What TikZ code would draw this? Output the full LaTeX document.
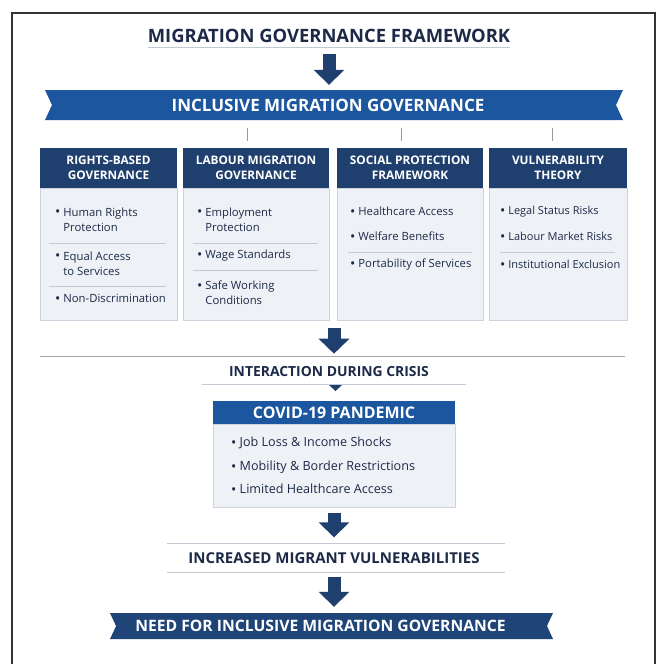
\documentclass[tikz,border=0pt]{standalone}
\usepackage{fontspec}
\setmainfont{Open Sans}
\usetikzlibrary{arrows.meta,shapes.symbols}

\definecolor{ink}{HTML}{1C2A48}
\definecolor{navy}{HTML}{1F3F6E}
\definecolor{bannerblue}{HTML}{1B569E}
\definecolor{deepnavy}{HTML}{1F4478}
\definecolor{paper}{HTML}{EEF1F6}
\definecolor{rim}{HTML}{CDD3DD}
\definecolor{rulegray}{HTML}{C3C9D3}

\newcommand{\bl}{\raisebox{-0.06em}{\fontsize{14}{14}\selectfont\textbullet}\ }
\newcommand{\bpad}{\hphantom{\raisebox{-0.06em}{\fontsize{14}{14}\selectfont\textbullet}\ }}

\begin{document}
\begin{tikzpicture}[x=1pt,y=-1pt,
	heading/.style={font=\bfseries\fontsize{18.4}{21}\selectfont, text=ink, inner sep=0pt},
	ribbon/.style={signal, signal to=nowhere, signal from=west and east, signal pointer angle=130,
		text=white, font=\bfseries\fontsize{17}{20}\selectfont, inner sep=0pt},
	colhead/.style={fill=navy, text=white, align=center, font=\bfseries\fontsize{11.8}{15}\selectfont,
		minimum height=40pt, inner sep=0pt},
	colbody/.style={fill=paper, draw=rim, line width=0.8pt, minimum height=132pt, inner sep=0pt},
	item/.style={anchor=west, align=left, text=ink, font=\fontsize{11.3}{15}\selectfont, inner sep=0pt},
	sepline/.style={draw=rulegray, line width=0.8pt},
	bigarrow/.style={draw=navy, line width=13pt, -{Triangle[width=30pt,length=15pt]}},
]
	\fill[white] (0,0) rectangle (660,664);
	\useasboundingbox (0,0) rectangle (660,664);
	% Frame
	\draw[line width=1.3pt, black!80] (12,664) -- (12,13) -- (655,13) -- (655,664);

	% Top
	\node[heading] (title) at (329,36) {MIGRATION GOVERNANCE FRAMEWORK};
	\draw[sepline] (148,47) -- (510,47);
	\node[ribbon, fill=bannerblue, minimum width=578pt, minimum height=30pt] (inclusive) at (334,105)
		{INCLUSIVE MIGRATION GOVERNANCE\kern12pt};
	\draw[bigarrow] ([yshift=-11pt]title.south) -- ([yshift=5pt]title.south |- inclusive.north);
	\foreach \x in {247, 401, 552} {
		\draw[draw=black!40, line width=0.8pt] (\x,128) -- (\x,141);
	}

	% Columns
	\foreach \n/\cx/\w/\txt in {rights/108.5/137/{RIGHTS-BASED\\GOVERNANCE},
			labour/256/146/{LABOUR MIGRATION\\GOVERNANCE},
			social/410/146/{SOCIAL PROTECTION\\FRAMEWORK},
			vuln/558/138/{VULNERABILITY\\THEORY}} {
		\node[colhead, minimum width=\w pt] (\n-head) at (\cx,168) {\txt};
		\node[colbody, minimum width=\w pt, anchor=north] (\n-body) at (\n-head.south) {};
	}
	% Rights
	\node[item] (r1) at (55,219.5) {\bl Human Rights\\\bpad Protection};
	\node[item] (r2) at (55,263.5) {\bl Equal Access\\\bpad to Services};
	\node[item] (r3) at (55,299) {\bl Non-Discrimination};
	\draw[sepline] (49,243) -- (166,243);
	\draw[sepline] (49,286) -- (166,286);
	% Labour
	\node[item] (l1) at (197,219.5) {\bl Employment\\\bpad Protection};
	\node[item] (l2) at (197,256) {\bl Wage Standards};
	\node[item] (l3) at (197,293) {\bl Safe Working\\\bpad Conditions};
	\draw[sepline] (193,243) -- (318,243);
	\draw[sepline] (193,270) -- (318,270);
	% Social
	\node[item] (s1) at (350,212) {\bl Healthcare Access};
	\node[item] (s2) at (350,237) {\bl Welfare Benefits};
	\node[item] (s3) at (350,265) {\bl Portability of Services};
	\draw[sepline] (348,252) -- (472,252);
	% Vulnerability
	\node[item, font=\fontsize{11}{15}\selectfont] (v1) at (500,212) {\bl Legal Status Risks};
	\node[item, font=\fontsize{11}{15}\selectfont] (v2) at (500,237) {\bl Labour Market Risks};
	\node[item, font=\fontsize{11}{15}\selectfont] (v3) at (500,265) {\bl Institutional Exclusion};
	\draw[sepline] (500,252) -- (615,252);

	% Crisis
	\draw[draw=black!35, line width=0.9pt] (40,356) -- (625,356);
	\node[heading, font=\bfseries\fontsize{13.9}{16}\selectfont] (crisis) at (329,372) {INTERACTION DURING CRISIS};
	\draw[bigarrow] ([yshift=-7pt]inclusive.center |- social-body.south)
		-- ([yshift=13pt]inclusive.center |- crisis.north);
	\draw[sepline] (202,384) -- (466,384);
	\fill[navy] (329,385) -- (342,385) -- (335.5,391) -- cycle;

	\node[colhead, fill=bannerblue, font=\bfseries\fontsize{16}{19}\selectfont,
		minimum width=242pt, minimum height=23pt] (covid) at (334,412.5) {COVID-19 PANDEMIC};
	\node[colbody, minimum width=242pt, minimum height=83pt, anchor=north] (covid-body) at (covid.south) {};
	\node[item, font=\fontsize{12.6}{15}\selectfont] (c1) at (231,443) {\bl Job Loss \& Income Shocks};
	\node[item, font=\fontsize{12.6}{15}\selectfont] (c2) at (231,467) {\bl Mobility \& Border Restrictions};
	\node[item, font=\fontsize{12.6}{15}\selectfont] (c3) at (231,489) {\bl Limited Healthcare Access};

	% Outcome
	\draw[sepline] (167,543) -- (505,543);
	\node[heading, font=\bfseries\fontsize{15}{18}\selectfont] (increased) at (334,558) {INCREASED MIGRANT VULNERABILITIES};
	\draw[sepline] (167,572) -- (505,572);
	\draw[bigarrow] ([yshift=-5pt]covid-body.south) -- ([yshift=15pt]covid-body.south |- increased.north);

	\node[ribbon, fill=deepnavy, font=\bfseries\fontsize{15.7}{18}\selectfont,
		minimum width=443pt, minimum height=26pt] (need) at (331.5,626)
		{NEED FOR INCLUSIVE MIGRATION GOVERNANCE\kern22pt};
	\draw[bigarrow] ([yshift=-13pt]increased.south) -- ([yshift=6pt]increased.south |- need.north);
\end{tikzpicture}
\end{document}
